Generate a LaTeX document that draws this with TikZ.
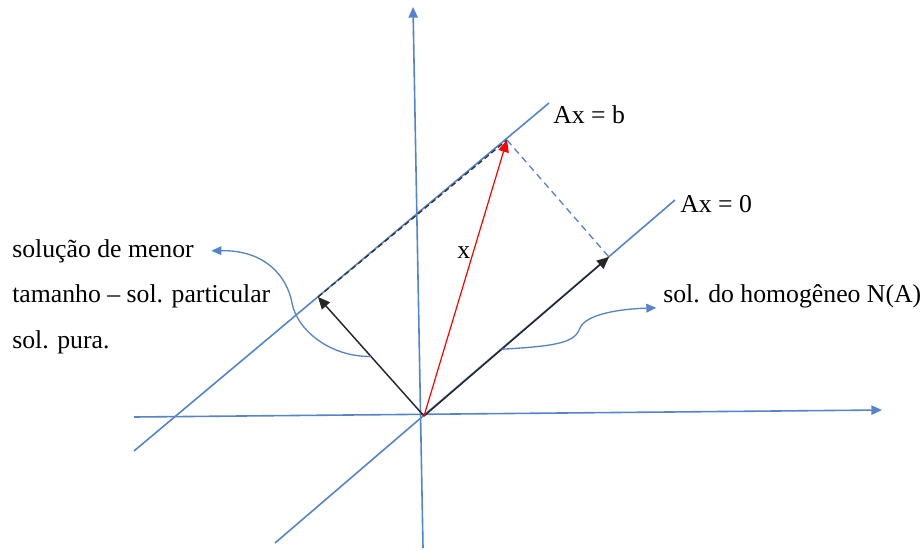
\documentclass[tikz,border=0pt]{standalone}
\usepackage{fontspec}
\setmainfont{Liberation Serif}
\usetikzlibrary{arrows.meta,positioning,calc}
\definecolor{axisblue}{RGB}{84,132,204}

\begin{document}
\begin{tikzpicture}[x=0.75pt,y=-0.75pt,
  axis/.style={axisblue, line width=1.2pt},
  vec/.style={line width=1.1pt, -{Triangle[length=9pt,width=8pt]}},
  lbl/.style={font=\fontsize{19.3}{23}\selectfont, inner sep=0pt, anchor=base west},
  pointer/.style={axisblue, line width=1pt, -{Triangle[length=7.5pt,width=6.5pt]}}
]
  \useasboundingbox (0,0) rectangle (920,550);

  % axes and the two lines
  \coordinate (O) at (424,416);
  \coordinate (ybot) at (423,548);
  \coordinate (ytop) at (413,7);
  \coordinate (xleft) at (134,417);
  \coordinate (xright) at (882,410);
  \coordinate (nlow) at (275,543);
  \coordinate (nhigh) at (675,200);
  \coordinate (blow) at (134,451);
  \coordinate (bhigh) at (549,103);

  \draw[axis, -{Triangle[length=8pt,width=7pt]}] (ybot) -- (ytop);
  \draw[axis, -{Triangle[length=8pt,width=7pt]}] (xleft) -- (xright);
  \foreach \from/\to in {nlow/nhigh, blow/bhigh}
    \draw[axis] (\from) -- (\to);

  % vectors
  \coordinate (p) at (318,297);
  \coordinate (b) at (507,140);
  \coordinate (h) at (609,257);
  \draw[vec, black!85] (O) -- (p);
  \draw[vec, black!85] (O) -- (h);
  \draw[vec, red, line width=0.9pt] (O) -- (b);
  \draw[black!80, line width=1pt, dash pattern=on 4pt off 2.5pt] (p) -- (b);
  \draw[axisblue, line width=1pt, dash pattern=on 5pt off 3.5pt] (b) -- (h);

  % labels
  \node[lbl] (eqb) at (553,123) {Ax = b};
  \node[lbl] (eq0) at (680,212) {Ax = 0};
  \node[lbl] (xl) at (457,258) {x};
  \node[lbl] (s1) at (12,257) {solução de menor};
  \node[lbl] (s2) at (12,302) {tamanho – sol. particular};
  \node[lbl] (s3) at (12,348) {sol. pura.};
  \node[lbl] (hom) at (663,302) {sol. do homogêneo N(A)};

  % pointers
  \path (O) -- (p) coordinate[pos=0.5] (pl);
  \path (O) -- (h) coordinate[pos=0.42] (ph);
  \draw[pointer] (pl) .. controls (330,357) and (297,330) .. (292,303)
    .. controls (287,276) and (265,250) .. ([xshift=13pt]s1.east);
  \draw[pointer] (ph) .. controls (560,346) and (575,342) .. (580,328)
    .. controls (586,314) and (620,309) .. ([xshift=-5pt]hom.south west);
\end{tikzpicture}
\end{document}
